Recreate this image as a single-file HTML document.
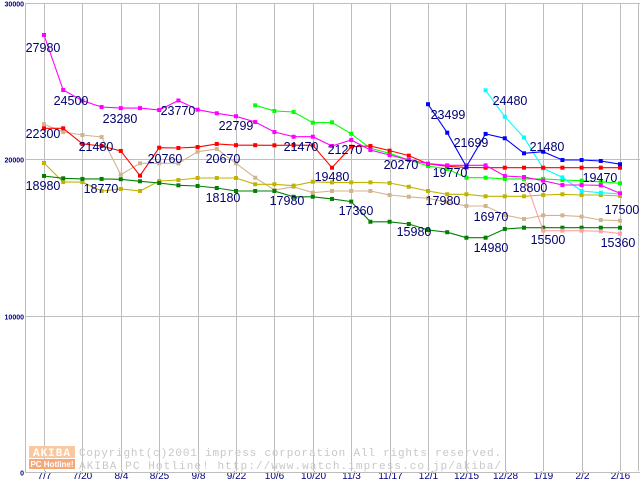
<!DOCTYPE html>
<html><head><meta charset="utf-8"><style>
body{margin:0;background:#fff;}
svg{display:block;font-family:"Liberation Sans",sans-serif;}
</style></head><body>
<svg id="chart" width="640" height="480" viewBox="0 0 640 480" xmlns="http://www.w3.org/2000/svg">
<g id="grid"></g>
<g id="wm">
  <rect x="29" y="446" width="46" height="12" fill="#f9c7a0"/>
  <text x="52" y="456" font-size="11" font-weight="bold" fill="#fff" text-anchor="middle" font-family="Liberation Mono,monospace" letter-spacing="1">AKIBA</text>
  <rect x="29" y="459" width="46" height="10" fill="#f6a878"/>
  <text x="52" y="467" font-size="8" font-weight="bold" fill="#fff" text-anchor="middle">PC Hotline!</text>
  <text x="79" y="456" font-size="11" fill="#c8c8c8" font-family="Liberation Mono,monospace" textLength="422">Copyright(c)2001 impress corporation All rights reserved.</text>
  <text x="79" y="469" font-size="11" fill="#c8c8c8" font-family="Liberation Mono,monospace" textLength="422">AKIBA PC Hotline!  http://www.watch.impress.co.jp/akiba/</text>
</g>
<g id="series"></g>
<g id="labels"></g>
</svg>
<script>
const xTicks=["7/7","7/20","8/4","8/25","9/8","9/22","10/6","10/20","11/3","11/17","12/1","12/15","12/28","1/19","2/2","2/16"];
const yTicks=[0,10000,20000,30000];
const magenta=[27960,24440,23760,23350,23280,23280,23160,23770,23180,22950,22760,22390,21750,21450,21450,20860,21240,20600,20280,19960,19730,19620,19620,19620,18940,18870,18640,18360,18360,18340,17830];
const red=[21990,21990,20990,20860,20540,18960,20750,20730,20790,20990,20910,20910,20900,20910,20900,19470,20810,20860,20560,20240,19710,19560,19490,19470,19470,19470,19470,19470,19470,19470,19470];
const tan=[22260,21750,21560,21430,19020,19750,19750,19750,20490,20670,19750,18830,18040,18250,17870,17980,17980,17980,17720,17610,17510,17260,17020,17020,16440,16190,16420,16420,16340,16120,16080];
const olive=[19770,18550,18550,17980,18110,17980,18620,18680,18810,18810,18810,18410,18410,18320,18570,18530,18530,18530,18490,18250,17980,17770,17770,17640,17640,17640,17720,17770,17720,17720,17660];
const darkGreen=[18940,18790,18750,18750,18730,18600,18490,18340,18300,18170,17980,17980,17980,17610,17610,17470,17300,16010,16010,15870,15480,15340,14990,14990,15550,15630,15630,15630,15630,15630,15630];
const brightGreen=[null,null,null,null,null,null,null,null,null,null,null,23460,23100,23030,22350,22370,21640,20710,20390,19960,19580,19390,18830,18830,18750,18750,18750,18680,18640,18570,18470];
const pink=[null,null,null,null,null,null,null,null,null,null,null,null,null,null,null,null,null,null,null,null,null,null,null,null,null,18870,15440,15440,15440,15400,15250];
const blue=[null,null,null,null,null,null,null,null,null,null,null,null,null,null,null,null,null,null,null,null,23530,21710,19530,21630,21350,20390,20490,19960,19960,19900,19690];
const cyan=[null,null,null,null,null,null,null,null,null,null,null,null,null,null,null,null,null,null,null,null,null,null,null,24420,22730,21400,19430,18850,17980,17870,17790];
const labelText=["27980","24500","23280","23770","22799","22300","21480","21470","21270","20760","20670","20270","19770","19480","18980","18770","18180","17980","17360","17980","16970","15980","14980","15500","15360","17500","19470","18800","21480","21699","23499","24480"];
const labelX=[43,71,120,178,236,43,96,301,345,165,223,401,450,332,43,101,223,287,356,443,491,414,491,548,618,622,600,530,547,471,448,510];
const labelY=[47,100,118,110,125,133,146,146,149,158,158,164,172,176,185,188,197,200,210,200,216,231,247,239,242,209,177,187,146,142,114,100];

const NS="http://www.w3.org/2000/svg";
const x=i=>44+19.2*i;
const y=v=>472-v*0.01563;
const grid=document.getElementById('grid');
const ser=document.getElementById('series');
const lab=document.getElementById('labels');
function mk(tag,attrs,parent){const e=document.createElementNS(NS,tag);for(const k in attrs)e.setAttribute(k,attrs[k]);parent.appendChild(e);return e;}
xTicks.forEach((t,k)=>{
  const gx=Math.round(x(2*k))+0.5;
  const l=mk('line',{x1:gx,y1:4,x2:gx,y2:471,stroke:'#bdbdbd','stroke-width':1},grid);
  
  
  const tx=mk('text',{x:gx,y:479,'font-size':10,fill:'#000080','text-anchor':'middle'},grid);
  tx.textContent=t;
  
  
});
mk('line',{x1:638.5,y1:4,x2:638.5,y2:471,stroke:'#bdbdbd'},grid);
yTicks.forEach(v=>{
  const gy=Math.round(y(v))+0.5;
  const l=mk('line',{x1:25,y1:gy,x2:640,y2:gy,stroke:'#bdbdbd'},grid);
  
  
  const tx=mk('text',{x:24,y:gy+3,'font-size':7,'font-weight':'bold',fill:'#000080','text-anchor':'end'},grid);
  tx.textContent=String(v);
  
  
});
const ax=mk('line',{x1:25.5,y1:4,x2:25.5,y2:472,stroke:'#bdbdbd'},grid);



function draw(arr,color,name){
  const g=mk('g',{},ser);
  
  
  let pts=[];
  arr.forEach((v,i)=>{if(v!==null)pts.push(x(i).toFixed(1)+','+y(v).toFixed(1));});
  mk('polyline',{points:pts.join(' '),fill:'none',stroke:color,'stroke-width':1.1},g);
  arr.forEach((v,i)=>{if(v===null)return;
    const r=mk('rect',{x:x(i)-2,y:y(v)-2,width:4,height:4,fill:color},g);
    
    
  });
}
draw(tan,'#d2b48c','series-tan');
draw(olive,'#c0b400','series-olive');
draw(darkGreen,'#008000','series-dark-green');
draw(pink,'#ffa0a8','series-pink');
draw(brightGreen,'#00ff00','series-bright-green');
draw(cyan,'#00ffff','series-cyan');
draw(red,'#ff0000','series-red');
draw(magenta,'#ff00ff','series-magenta');
draw(blue,'#0000ff','series-blue');
labelText.forEach((t,i)=>{
  const tx=mk('text',{x:labelX[i],y:labelY[i]+5,'font-size':12.5,fill:'#000070','text-anchor':'middle'},lab);
  tx.textContent=t;
  
  
});
</script>
</body></html>
